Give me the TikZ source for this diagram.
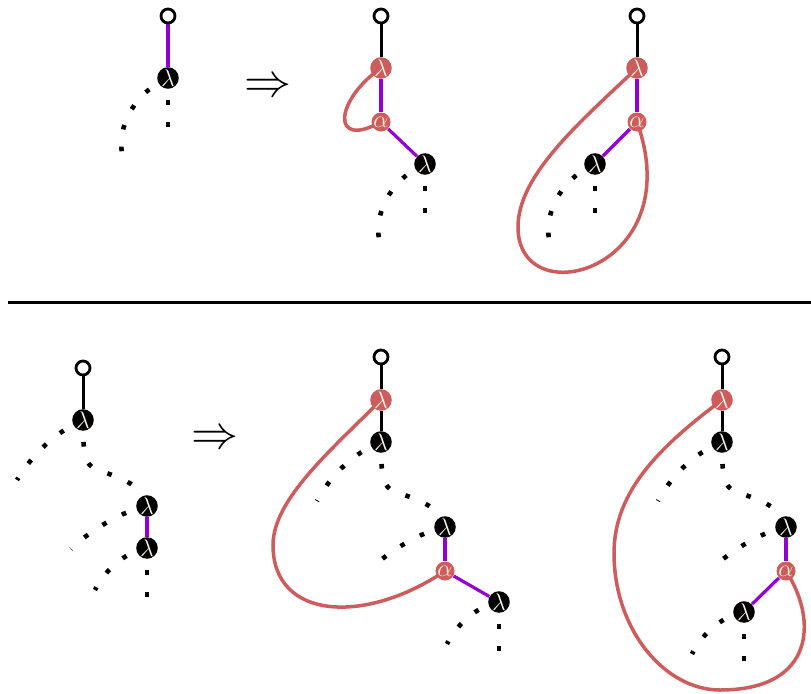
\documentclass[tikz,border=0pt]{standalone}
\usepackage{xcolor}
\usetikzlibrary{backgrounds}
\definecolor{myred}{RGB}{205, 92, 92}
\definecolor{mypurple}{RGB}{148, 0, 211}
\definecolor{mycream}{RGB}{250, 242, 224}

\tikzset{
  blam/.style={circle, fill=black, text=mycream, inner sep=0pt, minimum size=9.5pt, font=\large},
  rlam/.style={blam, fill=myred},
  openv/.style={circle, draw, fill=white, line width=1.4pt, inner sep=0pt, minimum size=7pt},
  blackedge/.style={line width=1.5pt},
  violetedge/.style={line width=1.6pt, mypurple},
  dotedge/.style={line width=2.3pt, dash pattern=on 2.3pt off 8.7pt},
  loopedge/.style={line width=1.75pt, myred}
}

\begin{document}
\begin{tikzpicture}[x=0.5pt, y=-0.5pt]
\useasboundingbox (0,0) rectangle (811,693);

% top row
\node[openv] (t1r) at (168,16) {};
\node[blam] (t1a) at (168,78) {$\lambda$};
\coordinate (t1e1) at (168,128);
\coordinate (t1e2) at (125,165);

\node (arr1) at (268,88) {\scalebox{2.35}{$\Rightarrow$}};

\node[openv] (t2r) at (381,16) {};
\node[rlam] (t2l) at (381,68) {$\lambda$};
\node[rlam] (t2al) at (381,122) {$\alpha$};
\node[blam] (t2b) at (425,164) {$\lambda$};
\coordinate (t2e1) at (425,214);
\coordinate (t2e2) at (382,251);

\node[openv] (t3r) at (637,16) {};
\node[rlam] (t3l) at (637,68) {$\lambda$};
\node[rlam] (t3al) at (637,122) {$\alpha$};
\node[blam] (t3b) at (595,164) {$\lambda$};
\coordinate (t3e1) at (595,214);
\coordinate (t3e2) at (552,251);

% bottom row
\node[openv] (b1r) at (83,368) {};
\node[blam] (b1a) at (83,420) {$\lambda$};
\node[blam] (b1b) at (147,506) {$\lambda$};
\node[blam] (b1c) at (147,548) {$\lambda$};
\coordinate (b1e1) at (17,480);
\coordinate (b1e2) at (71,549);
\coordinate (b1e3) at (95,590);
\coordinate (b1e4) at (147,598);

\node (arr2) at (215,440) {\scalebox{2.35}{$\Rightarrow$}};

\node[openv] (b2r) at (381,357) {};
\node[rlam] (b2l) at (381,400) {$\lambda$};
\node[blam] (b2a) at (381,442) {$\lambda$};
\node[blam] (b2b) at (445,527) {$\lambda$};
\node[rlam] (b2al) at (445,571) {$\alpha$};
\node[blam] (b2c) at (499,602) {$\lambda$};
\coordinate (b2e1) at (317,501);
\coordinate (b2e2) at (370,570);
\coordinate (b2e3) at (447,644);
\coordinate (b2e4) at (499,652);

\node[openv] (b3r) at (722,357) {};
\node[rlam] (b3l) at (722,400) {$\lambda$};
\node[blam] (b3a) at (722,442) {$\lambda$};
\node[blam] (b3b) at (786,527) {$\lambda$};
\node[rlam] (b3al) at (786,571) {$\alpha$};
\node[blam] (b3c) at (744,612) {$\lambda$};
\coordinate (b3e1) at (658,501);
\coordinate (b3e2) at (711,570);
\coordinate (b3e3) at (692,654);
\coordinate (b3e4) at (744,662);

\begin{scope}[on background layer]
\draw[line width=1.5pt] (8,302) -- (811,302);

\draw[violetedge] (t1r) -- (t1a);
\draw[dotedge] (t1a.center) -- (t1e1);
\draw[dotedge] (t1a.center) .. controls (135,92) and (112,130) .. (t1e2);

\draw[blackedge] (t2r) -- (t2l);
\draw[violetedge] (t2l) -- (t2al);
\draw[violetedge] (t2al) -- (t2b);
\draw[loopedge] (t2l.center) .. controls (335,100) and (330,150) .. (t2al.center);
\draw[dotedge] (t2b.center) -- (t2e1);
\draw[dotedge] (t2b.center) .. controls (392,178) and (369,216) .. (t2e2);

\draw[blackedge] (t3r) -- (t3l);
\draw[violetedge] (t3l) -- (t3al);
\draw[violetedge] (t3al) -- (t3b);
\draw[loopedge] (t3l.center) .. controls (580,122) and (518,175) .. (518,227)
  .. controls (518,316) and (690,270) .. (t3al.center);
\draw[dotedge] (t3b.center) -- (t3e1);
\draw[dotedge] (t3b.center) .. controls (562,178) and (539,216) .. (t3e2);

\draw[blackedge] (b1r) -- (b1a);
\draw[violetedge] (b1b) -- (b1c);
\draw[dotedge] (b1a.center) .. controls (60,430) and (35,450) .. (b1e1);
\draw[dotedge] (b1a.center) .. controls (83,455) and (85,465) .. (97,470)
  .. controls (123,478) and (143,486) .. (b1b.center);
\draw[dotedge] (b1b.center) .. controls (125,510) and (90,530) .. (b1e2);
\draw[dotedge] (b1c.center) .. controls (125,552) and (105,570) .. (b1e3);
\draw[dotedge] (b1c.center) -- (b1e4);

\draw[blackedge] (b2r) -- (b2l);
\draw[blackedge] (b2l) -- (b2a);
\draw[violetedge] (b2b) -- (b2al);
\draw[violetedge] (b2al) -- (b2c);
\draw[loopedge] (b2l.center) .. controls (330,451) and (273,500) .. (273,545)
  .. controls (273,620) and (365,625) .. (b2al.center);
\draw[dotedge] (b2a.center) .. controls (358,451) and (333,471) .. (b2e1);
\draw[dotedge] (b2a.center) .. controls (381,477) and (383,487) .. (395,492)
  .. controls (421,500) and (441,508) .. (b2b.center);
\draw[dotedge] (b2b.center) .. controls (423,531) and (388,551) .. (b2e2);
\draw[dotedge] (b2c.center) .. controls (477,606) and (457,624) .. (b2e3);
\draw[dotedge] (b2c.center) -- (b2e4);

\draw[blackedge] (b3r) -- (b3l);
\draw[blackedge] (b3l) -- (b3a);
\draw[violetedge] (b3b) -- (b3al);
\draw[violetedge] (b3al) -- (b3c);
\draw[loopedge] (b3l.center) .. controls (662,445) and (614,490) .. (614,553)
  .. controls (614,630) and (665,690) .. (720,690)
  .. controls (815,690) and (818,620) .. (b3al.center);
\draw[dotedge] (b3a.center) .. controls (699,451) and (674,471) .. (b3e1);
\draw[dotedge] (b3a.center) .. controls (722,477) and (724,487) .. (736,492)
  .. controls (762,500) and (782,508) .. (b3b.center);
\draw[dotedge] (b3b.center) .. controls (764,531) and (729,551) .. (b3e2);
\draw[dotedge] (b3c.center) .. controls (722,616) and (702,634) .. (b3e3);
\draw[dotedge] (b3c.center) -- (b3e4);
\end{scope}
\end{tikzpicture}
\end{document}
